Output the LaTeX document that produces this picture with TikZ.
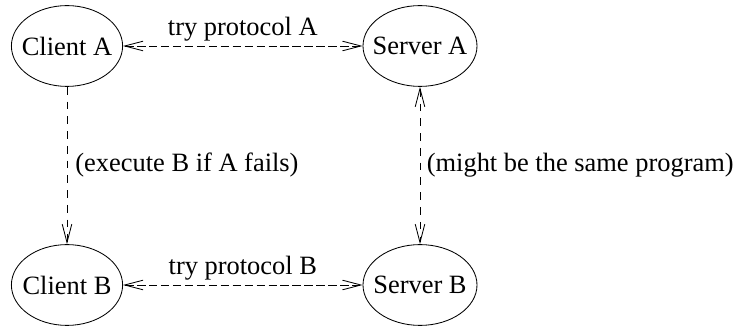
\documentclass[tikz,border=0pt]{standalone}
\usepackage{fontspec}
\setmainfont{Liberation Serif}
\usetikzlibrary{arrows.meta,shapes.geometric}
\tikzset{
  host/.style={draw,ellipse,inner sep=0pt,minimum height=2.02cm},
  link/.style={line width=0.6pt,dash pattern=on 6pt off 2.5pt,
    >={Straight Barb[length=0.46cm,width=0.24cm]}},
}
\newcommand{\hostname}[1]{\makebox[0pt]{#1}}
\begin{document}
\begin{tikzpicture}[line width=0.6pt,font=\fontsize{18.8}{22}\selectfont]
\useasboundingbox (0,0) rectangle (18.475,8.2);
\node[host,minimum width=2.78cm] (clientA) at (1.675,7.05) {\hostname{Client A}};
\node[host,minimum width=2.85cm] (serverA) at (10.5,7.05) {\hostname{Server A}};
\node[host,minimum width=2.78cm] (clientB) at (1.675,1.075) {\hostname{Client B}};
\node[host,minimum width=2.85cm] (serverB) at (10.5,1.075) {\hostname{Server B}};

\draw[link,<->] (clientA) -- (serverA)
  node[midway,anchor=base,yshift=0.25cm] (tryA) {try protocol A};
\draw[link,<->] (clientB) -- (serverB)
  node[midway,anchor=base,yshift=0.25cm] (tryB) {try protocol B};

\draw[link,->,dash pattern=on 5.5pt off 5pt] (clientA) -- (clientB)
  node[midway,anchor=west,inner sep=0pt,xshift=0.2cm] (fallback) {(execute B if A fails)};
\draw[link,<->,dash pattern=on 5.5pt off 5pt] (serverA) -- (serverB)
  node[midway,anchor=west,inner sep=0pt,xshift=0.16cm] (same) {(might be the same program)};
\end{tikzpicture}
\end{document}
